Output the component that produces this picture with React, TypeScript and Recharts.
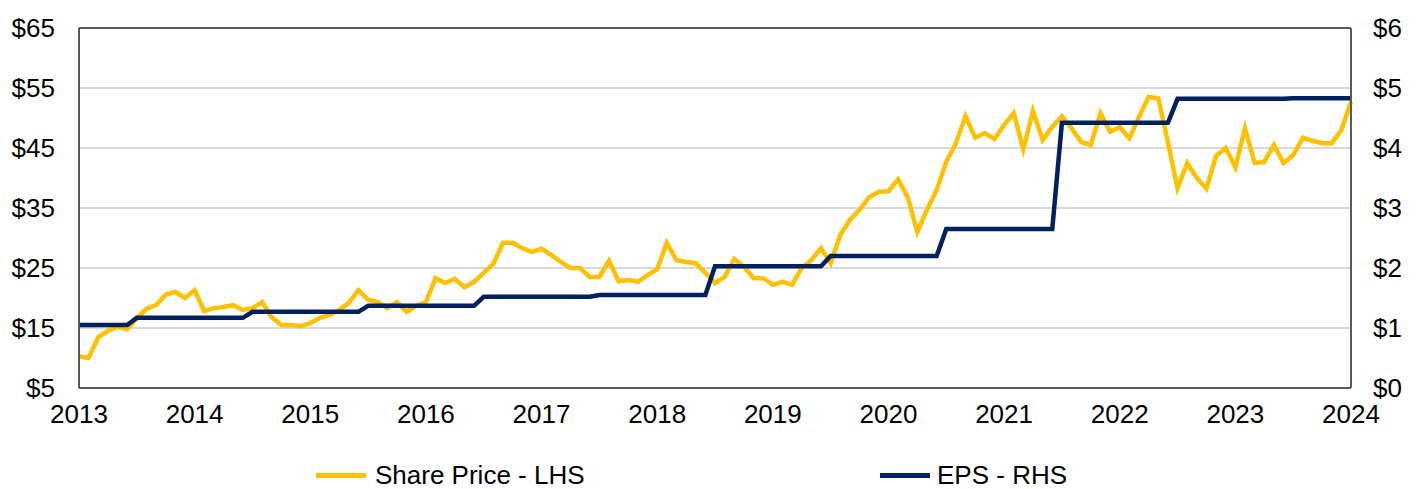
import { LineChart, Line, XAxis, YAxis, CartesianGrid, ReferenceLine } from 'recharts'

// monthly closes, Jan 2013 .. Jan 2024
const sharePrice = [
  10.3, 10.0, 13.5, 14.5, 15.2, 14.8, 16.6, 18.2, 18.8, 20.6, 21.0, 20.0,
  21.3, 17.8, 18.3, 18.5, 18.8, 18.0, 18.3, 19.3, 16.8, 15.5, 15.5, 15.3,
  15.8, 16.7, 17.2, 18.0, 19.2, 21.3, 19.7, 19.3, 18.3, 19.3, 17.7, 18.7,
  19.3, 23.3, 22.5, 23.2, 21.8, 22.7, 24.2, 25.7, 29.2, 29.2, 28.3, 27.7,
  28.2, 27.2, 26.0, 25.0, 25.0, 23.5, 23.5, 26.2, 22.8, 23.0, 22.7, 23.8,
  24.8, 29.2, 26.3, 26.0, 25.8, 24.2, 22.5, 23.5, 26.5, 25.2, 23.3, 23.3,
  22.2, 22.7, 22.2, 25.0, 26.3, 28.3, 25.8, 30.5, 33.0, 34.7, 36.8, 37.7,
  37.8, 39.8, 36.8, 31.0, 34.7, 38.0, 42.7, 45.8, 50.3, 46.7, 47.5, 46.5,
  48.8, 50.8, 44.8, 51.2, 46.3, 48.5, 50.3, 48.3, 46.0, 45.5, 50.8, 47.7,
  48.5, 46.6, 50.2, 53.5, 53.3, 46.0, 38.3, 42.5, 40.0, 38.2, 43.7, 45.0,
  41.8, 48.3, 42.5, 42.7, 45.5, 42.5, 43.8, 46.7, 46.2, 45.8, 45.8, 48.0,
  52.7,
]

const eps = [
  1.05, 1.05, 1.05, 1.05, 1.05, 1.05, 1.17, 1.17, 1.17, 1.17, 1.17, 1.17,
  1.17, 1.17, 1.17, 1.17, 1.17, 1.17, 1.27, 1.27, 1.27, 1.27, 1.27, 1.27,
  1.27, 1.27, 1.27, 1.27, 1.27, 1.27, 1.37, 1.37, 1.37, 1.37, 1.37, 1.37,
  1.37, 1.37, 1.37, 1.37, 1.37, 1.37, 1.52, 1.52, 1.52, 1.52, 1.52, 1.52,
  1.52, 1.52, 1.52, 1.52, 1.52, 1.52, 1.55, 1.55, 1.55, 1.55, 1.55, 1.55,
  1.55, 1.55, 1.55, 1.55, 1.55, 1.55, 2.03, 2.03, 2.03, 2.03, 2.03, 2.03,
  2.03, 2.03, 2.03, 2.03, 2.03, 2.03, 2.2, 2.2, 2.2, 2.2, 2.2, 2.2,
  2.2, 2.2, 2.2, 2.2, 2.2, 2.2, 2.65, 2.65, 2.65, 2.65, 2.65, 2.65,
  2.65, 2.65, 2.65, 2.65, 2.65, 2.65, 4.42, 4.42, 4.42, 4.42, 4.42, 4.42,
  4.42, 4.42, 4.42, 4.42, 4.42, 4.42, 4.82, 4.82, 4.82, 4.82, 4.82, 4.82,
  4.82, 4.82, 4.82, 4.82, 4.82, 4.82, 4.83, 4.83, 4.83, 4.83, 4.83, 4.83,
  4.83,
]

const years = [2013, 2014, 2015, 2016, 2017, 2018, 2019, 2020, 2021, 2022, 2023, 2024]
const priceTicks = [5, 15, 25, 35, 45, 55, 65]
const epsTicks = [0, 1, 2, 3, 4, 5, 6]

const GOLD = '#FFC000'
const NAVY = '#002060'
const FONT = '"Liberation Sans", Arial, sans-serif'

const data = sharePrice.map((price, i) => ({ m: i, price, eps: eps[i] }))
const yearTicks = years.map((_, i) => i * 12)

export default function App() {
  const tickStyle = { fontSize: 26, fill: '#000', fontFamily: FONT }

  return (
    <div style={{ position: 'absolute', left: 0, top: 0, width: 1419, height: 489, background: '#fff', overflow: 'hidden' }}>
      <LineChart width={1419} height={489} data={data} margin={{ top: 28, right: 0, bottom: 61, left: 0 }}>
        <CartesianGrid yAxisId="left" vertical={false} stroke="#d9d9d9" strokeWidth={2} />
        <XAxis
          dataKey="m"
          type="number"
          domain={[0, 132]}
          ticks={yearTicks}
          tickFormatter={(v) => String(years[v / 12])}
          height={40}
          tickLine={false}
          tickSize={0}
          tickMargin={17}
          axisLine={{ stroke: '#595959', strokeWidth: 2 }}
          tick={tickStyle}
          interval={0}
        />
        <YAxis
          yAxisId="left"
          domain={[5, 65]}
          ticks={priceTicks}
          tickFormatter={(v) => `$${v}`}
          width={79}
          tickLine={false}
          tickSize={0}
          tickMargin={24}
          axisLine={{ stroke: '#595959', strokeWidth: 2 }}
          tick={tickStyle}
          interval={0}
        />
        <YAxis
          yAxisId="right"
          orientation="right"
          domain={[0, 6]}
          ticks={epsTicks}
          tickFormatter={(v) => `$${v}`}
          width={68}
          tickLine={false}
          tickSize={0}
          tickMargin={22}
          axisLine={{ stroke: '#595959', strokeWidth: 2 }}
          tick={tickStyle}
          interval={0}
        />
        <ReferenceLine yAxisId="left" y={65} stroke="#595959" strokeWidth={2} />
        <Line
          yAxisId="left"
          dataKey="price"
          stroke={GOLD}
          strokeWidth={4.5}
          dot={false}
          type="linear"
          isAnimationActive={false}
        />
        <Line
          yAxisId="right"
          dataKey="eps"
          stroke={NAVY}
          strokeWidth={4.5}
          dot={false}
          type="linear"
          isAnimationActive={false}
        />
      </LineChart>

      {/* legend */}
      <div style={{ position: 'absolute', left: 0, top: 462, width: 1419, height: 27, fontFamily: FONT, fontSize: 26, color: '#000' }}>
        <div style={{ position: 'absolute', left: 316, top: 0, height: 27, display: 'flex', alignItems: 'center', lineHeight: '27px' }}>
          <span style={{ display: 'inline-block', width: 50, height: 4.5, background: GOLD, marginRight: 9 }} />
          <span>Share Price - LHS</span>
        </div>
        <div style={{ position: 'absolute', left: 880, top: 0, height: 27, display: 'flex', alignItems: 'center', lineHeight: '27px' }}>
          <span style={{ display: 'inline-block', width: 50, height: 4.5, background: NAVY, marginRight: 7 }} />
          <span>EPS - RHS</span>
        </div>
      </div>
    </div>
  )
}
